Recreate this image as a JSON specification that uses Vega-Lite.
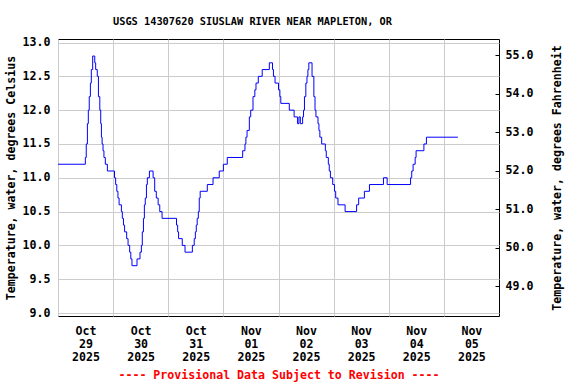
{
  "$schema": "https://vega.github.io/schema/vega-lite/v6.json",
  "width": 441,
  "height": 277,
  "autosize": "none",
  "padding": {"left": 58, "top": 39, "right": 77, "bottom": 68},
  "background": "white",
  "title": {
    "text": "USGS 14307620 SIUSLAW RIVER NEAR MAPLETON, OR",
    "font": "DejaVu Sans Mono",
    "fontWeight": "bold",
    "fontSize": 10.3,
    "color": "black",
    "anchor": "middle",
    "dx": -26,
    "offset": 9
  },
  "config": {
    "view": {"stroke": "black", "strokeWidth": 1},
    "axis": {
      "labelFont": "DejaVu Sans Mono",
      "labelFontWeight": "bold",
      "labelFontSize": 11.6,
      "labelColor": "black",
      "titleFont": "DejaVu Sans Mono",
      "titleFontWeight": "bold",
      "titleFontSize": 11.6,
      "titleColor": "black",
      "gridColor": "#cccccc",
      "gridWidth": 1,
      "domain": false
    }
  },
  "datasets": {
    "temps": [
      {"t": "2025-10-29T00:00", "temp": 11.2},
      {"t": "2025-10-29T11:54", "temp": 11.3},
      {"t": "2025-10-29T12:18", "temp": 11.5},
      {"t": "2025-10-29T12:48", "temp": 11.8},
      {"t": "2025-10-29T13:12", "temp": 12.0},
      {"t": "2025-10-29T13:36", "temp": 12.2},
      {"t": "2025-10-29T14:06", "temp": 12.4},
      {"t": "2025-10-29T14:30", "temp": 12.6},
      {"t": "2025-10-29T15:06", "temp": 12.8},
      {"t": "2025-10-29T16:00", "temp": 12.7},
      {"t": "2025-10-29T16:24", "temp": 12.6},
      {"t": "2025-10-29T17:06", "temp": 12.5},
      {"t": "2025-10-29T17:36", "temp": 12.2},
      {"t": "2025-10-29T18:12", "temp": 12.0},
      {"t": "2025-10-29T18:36", "temp": 11.8},
      {"t": "2025-10-29T18:54", "temp": 11.6},
      {"t": "2025-10-29T19:12", "temp": 11.5},
      {"t": "2025-10-29T19:36", "temp": 11.4},
      {"t": "2025-10-29T20:00", "temp": 11.3},
      {"t": "2025-10-29T20:36", "temp": 11.2},
      {"t": "2025-10-29T21:30", "temp": 11.1},
      {"t": "2025-10-30T00:36", "temp": 11.0},
      {"t": "2025-10-30T01:06", "temp": 10.9},
      {"t": "2025-10-30T01:36", "temp": 10.8},
      {"t": "2025-10-30T02:06", "temp": 10.7},
      {"t": "2025-10-30T02:36", "temp": 10.6},
      {"t": "2025-10-30T03:36", "temp": 10.5},
      {"t": "2025-10-30T04:00", "temp": 10.4},
      {"t": "2025-10-30T04:30", "temp": 10.3},
      {"t": "2025-10-30T05:00", "temp": 10.2},
      {"t": "2025-10-30T05:54", "temp": 10.1},
      {"t": "2025-10-30T06:30", "temp": 10.0},
      {"t": "2025-10-30T07:12", "temp": 9.9},
      {"t": "2025-10-30T07:42", "temp": 9.8},
      {"t": "2025-10-30T08:12", "temp": 9.7},
      {"t": "2025-10-30T10:24", "temp": 9.8},
      {"t": "2025-10-30T11:42", "temp": 9.9},
      {"t": "2025-10-30T12:18", "temp": 10.0},
      {"t": "2025-10-30T12:42", "temp": 10.2},
      {"t": "2025-10-30T13:12", "temp": 10.4},
      {"t": "2025-10-30T13:36", "temp": 10.6},
      {"t": "2025-10-30T14:00", "temp": 10.7},
      {"t": "2025-10-30T14:30", "temp": 10.9},
      {"t": "2025-10-30T14:54", "temp": 11.0},
      {"t": "2025-10-30T15:48", "temp": 11.1},
      {"t": "2025-10-30T17:24", "temp": 11.0},
      {"t": "2025-10-30T18:06", "temp": 10.8},
      {"t": "2025-10-30T18:48", "temp": 10.7},
      {"t": "2025-10-30T19:36", "temp": 10.6},
      {"t": "2025-10-30T20:18", "temp": 10.5},
      {"t": "2025-10-30T21:18", "temp": 10.4},
      {"t": "2025-10-31T03:36", "temp": 10.3},
      {"t": "2025-10-31T04:06", "temp": 10.2},
      {"t": "2025-10-31T04:30", "temp": 10.1},
      {"t": "2025-10-31T06:06", "temp": 10.0},
      {"t": "2025-10-31T07:18", "temp": 9.9},
      {"t": "2025-10-31T10:30", "temp": 10.0},
      {"t": "2025-10-31T11:18", "temp": 10.1},
      {"t": "2025-10-31T11:48", "temp": 10.2},
      {"t": "2025-10-31T12:12", "temp": 10.3},
      {"t": "2025-10-31T12:36", "temp": 10.4},
      {"t": "2025-10-31T13:06", "temp": 10.5},
      {"t": "2025-10-31T13:30", "temp": 10.7},
      {"t": "2025-10-31T13:54", "temp": 10.8},
      {"t": "2025-10-31T17:00", "temp": 10.9},
      {"t": "2025-10-31T19:30", "temp": 11.0},
      {"t": "2025-10-31T22:12", "temp": 11.1},
      {"t": "2025-11-01T00:00", "temp": 11.2},
      {"t": "2025-11-01T01:42", "temp": 11.3},
      {"t": "2025-11-01T08:24", "temp": 11.4},
      {"t": "2025-11-01T09:24", "temp": 11.5},
      {"t": "2025-11-01T09:48", "temp": 11.6},
      {"t": "2025-11-01T10:18", "temp": 11.7},
      {"t": "2025-11-01T11:18", "temp": 11.9},
      {"t": "2025-11-01T11:54", "temp": 12.0},
      {"t": "2025-11-01T12:54", "temp": 12.2},
      {"t": "2025-11-01T13:42", "temp": 12.3},
      {"t": "2025-11-01T14:12", "temp": 12.4},
      {"t": "2025-11-01T15:12", "temp": 12.5},
      {"t": "2025-11-01T16:54", "temp": 12.6},
      {"t": "2025-11-01T20:00", "temp": 12.7},
      {"t": "2025-11-01T21:24", "temp": 12.6},
      {"t": "2025-11-01T21:48", "temp": 12.5},
      {"t": "2025-11-01T22:30", "temp": 12.4},
      {"t": "2025-11-02T00:00", "temp": 12.3},
      {"t": "2025-11-02T00:36", "temp": 12.2},
      {"t": "2025-11-02T01:00", "temp": 12.1},
      {"t": "2025-11-02T04:42", "temp": 12.0},
      {"t": "2025-11-02T06:48", "temp": 11.9},
      {"t": "2025-11-02T08:18", "temp": 11.8},
      {"t": "2025-11-02T08:54", "temp": 11.9},
      {"t": "2025-11-02T09:30", "temp": 11.8},
      {"t": "2025-11-02T10:30", "temp": 11.9},
      {"t": "2025-11-02T10:54", "temp": 12.0},
      {"t": "2025-11-02T11:18", "temp": 12.2},
      {"t": "2025-11-02T11:54", "temp": 12.4},
      {"t": "2025-11-02T12:24", "temp": 12.5},
      {"t": "2025-11-02T12:48", "temp": 12.6},
      {"t": "2025-11-02T13:12", "temp": 12.7},
      {"t": "2025-11-02T14:36", "temp": 12.5},
      {"t": "2025-11-02T15:24", "temp": 12.2},
      {"t": "2025-11-02T15:54", "temp": 12.0},
      {"t": "2025-11-02T16:18", "temp": 11.9},
      {"t": "2025-11-02T17:12", "temp": 11.8},
      {"t": "2025-11-02T17:36", "temp": 11.7},
      {"t": "2025-11-02T18:00", "temp": 11.6},
      {"t": "2025-11-02T18:48", "temp": 11.5},
      {"t": "2025-11-02T20:24", "temp": 11.4},
      {"t": "2025-11-02T20:48", "temp": 11.3},
      {"t": "2025-11-02T21:42", "temp": 11.2},
      {"t": "2025-11-02T22:06", "temp": 11.1},
      {"t": "2025-11-02T22:36", "temp": 11.0},
      {"t": "2025-11-02T23:36", "temp": 10.9},
      {"t": "2025-11-03T00:24", "temp": 10.8},
      {"t": "2025-11-03T00:54", "temp": 10.7},
      {"t": "2025-11-03T01:54", "temp": 10.6},
      {"t": "2025-11-03T05:00", "temp": 10.5},
      {"t": "2025-11-03T10:00", "temp": 10.6},
      {"t": "2025-11-03T10:54", "temp": 10.7},
      {"t": "2025-11-03T13:24", "temp": 10.8},
      {"t": "2025-11-03T15:36", "temp": 10.9},
      {"t": "2025-11-03T21:42", "temp": 11.0},
      {"t": "2025-11-03T23:18", "temp": 10.9},
      {"t": "2025-11-04T09:30", "temp": 11.0},
      {"t": "2025-11-04T10:00", "temp": 11.1},
      {"t": "2025-11-04T10:36", "temp": 11.2},
      {"t": "2025-11-04T11:30", "temp": 11.3},
      {"t": "2025-11-04T11:54", "temp": 11.4},
      {"t": "2025-11-04T15:18", "temp": 11.5},
      {"t": "2025-11-04T16:24", "temp": 11.6},
      {"t": "2025-11-05T06:06", "temp": 11.6}
    ]
  },
  "data": {"name": "temps"},
  "layer": [
    {
      "mark": {"type": "line", "interpolate": "step-after", "color": "#0000ff", "strokeWidth": 1, "clip": true},
      "encoding": {
        "x": {
          "field": "t",
          "type": "temporal",
          "scale": {"domain": [{"year": 2025, "month": 10, "date": 29}, {"year": 2025, "month": 11, "date": 6}]},
          "axis": {
            "title": "---- Provisional Data Subject to Revision ----",
            "titleColor": "#ff0000",
            "titlePadding": 7,
            "values": [
              {"year": 2025, "month": 10, "date": 29},
              {"year": 2025, "month": 10, "date": 30},
              {"year": 2025, "month": 10, "date": 31},
              {"year": 2025, "month": 11, "date": 1},
              {"year": 2025, "month": 11, "date": 2},
              {"year": 2025, "month": 11, "date": 3},
              {"year": 2025, "month": 11, "date": 4},
              {"year": 2025, "month": 11, "date": 5}
            ],
            "labelExpr": "[timeFormat(datum.value, '%b'), timeFormat(datum.value, '%d'), timeFormat(datum.value, '%Y')]",
            "labelOffset": 27.5,
            "labelFlush": false,
            "labelOverlap": false,
            "labelBound": false,
            "labelLineHeight": 13,
            "labelPadding": 9,
            "ticks": false,
            "grid": true
          }
        },
        "y": {
          "field": "temp",
          "type": "quantitative",
          "scale": {"domain": [8.956, 13.052], "nice": false, "zero": false},
          "axis": {
            "title": "Temperature, water, degrees Celsius",
            "values": [9, 9.5, 10, 10.5, 11, 11.5, 12, 12.5, 13],
            "format": ".1f",
            "ticks": false,
            "grid": true,
            "labelPadding": 8,
            "titlePadding": 6
          }
        }
      }
    },
    {
      "mark": {"type": "line", "opacity": 0},
      "encoding": {
        "x": {"field": "t", "type": "temporal"},
        "y": {
          "field": "temp",
          "type": "quantitative",
          "scale": {"domain": [48.221, 55.416], "nice": false, "zero": false},
          "axis": {
            "orient": "right",
            "title": "Temperature, water, degrees Fahrenheit",
            "titleAngle": 270,
            "values": [49, 50, 51, 52, 53, 54, 55],
            "format": ".1f",
            "grid": false,
            "ticks": true,
            "tickColor": "black",
            "tickSize": -4,
            "labelPadding": 10,
            "titlePadding": 30
          }
        }
      }
    }
  ],
  "resolve": {"scale": {"y": "independent"}}
}
